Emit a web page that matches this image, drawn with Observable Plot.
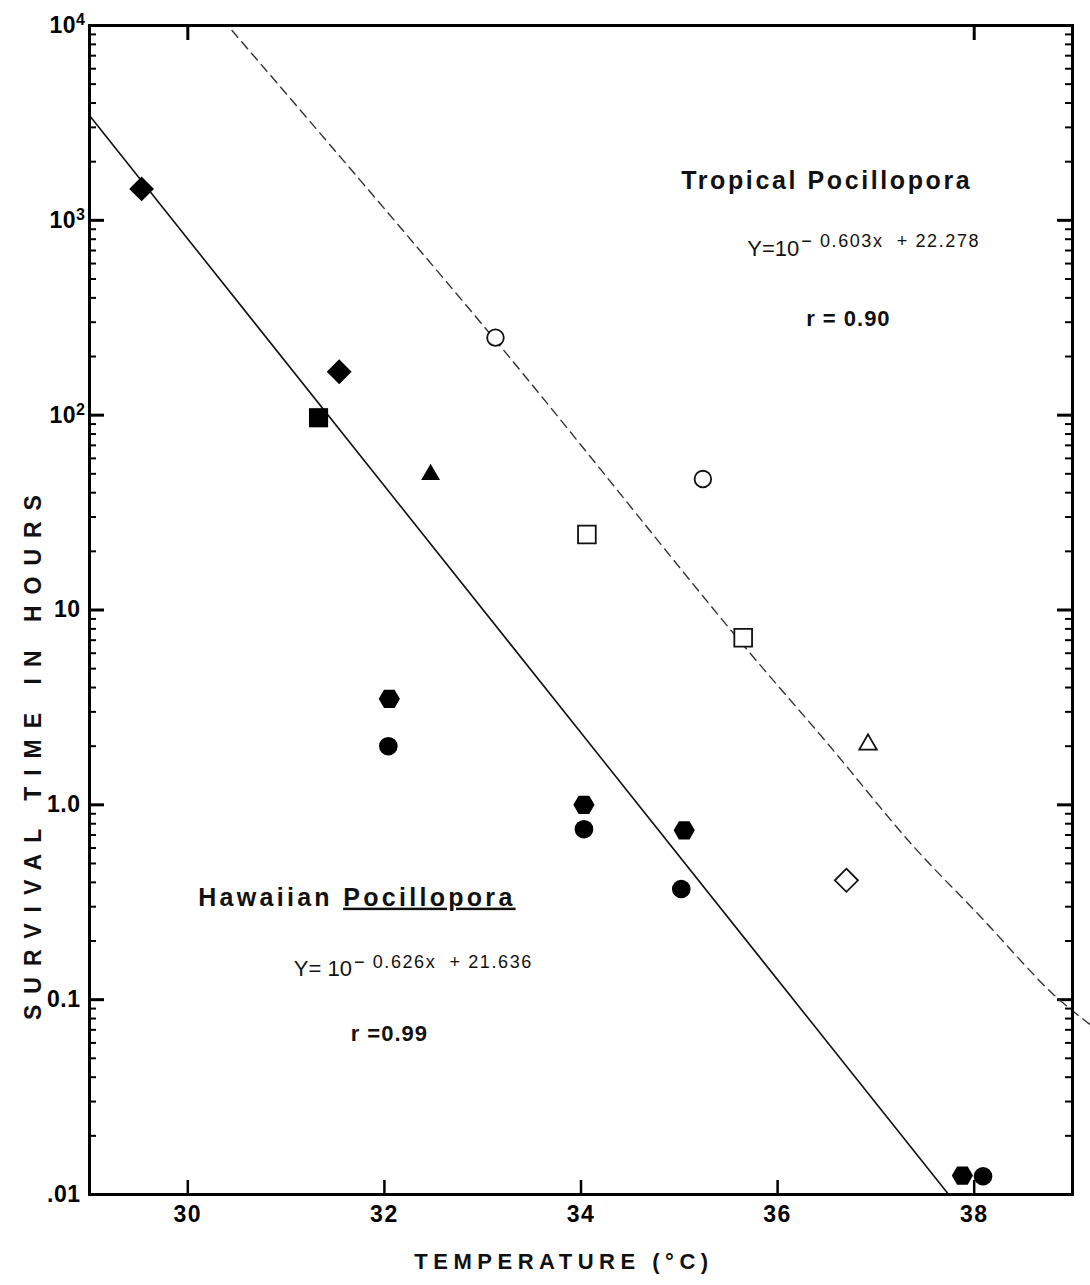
<!DOCTYPE html>
<html>
<head>
<meta charset="utf-8">
<script src="https://cdn.jsdelivr.net/npm/d3@7"></script>
<script src="https://cdn.jsdelivr.net/npm/@observablehq/plot@0.6"></script>
<style>
  html, body { margin: 0; padding: 0; background: #fff; }
  #chart svg { display: block; }
</style>
</head>
<body>
<div id="chart"></div>
<script>
// ---- Data ----
// Hawaiian Pocillopora (filled symbols)
const hawaiianTemp   = [29.53, 31.54, 31.33, 32.47, 32.05, 34.03, 35.05, 37.88, 32.04, 34.03, 35.02, 38.09];
const hawaiianHours  = [1450, 167, 97, 49.5, 3.5, 1.0, 0.74, 0.0125, 2.0, 0.75, 0.37, 0.0124];
const hawaiianSymbol = ["diamond", "diamond", "square", "triangle", "hexagon", "hexagon", "hexagon", "hexagon",
                        "circle", "circle", "circle", "circle"];

// Tropical Pocillopora (open symbols)
const tropicalTemp   = [33.13, 35.24, 34.06, 35.65, 36.92, 36.70];
const tropicalHours  = [250, 47, 24.4, 7.2, 2.04, 0.41];
const tropicalSymbol = ["circle", "circle", "square", "square", "triangle", "diamond"];

// Regression line (solid, Hawaiian) and curve (dashed, Tropical)
const hawaiianFitTemp  = [29, 37.74];
const hawaiianFitHours = [3450, 0.01];
const tropicalCurveTemp  = [30.45, 33.09, 35.57, 36.51, 37.38, 38.06, 38.80, 39.18];
const tropicalCurveHours = [9420, 256, 7.39, 2.06, 0.614, 0.268, 0.107, 0.0745];

// Axis ticks
const yTicks      = [10000, 1000, 100, 10, 1, 0.1, 0.01];
const yTickLabels = ["10^4", "10^3", "10^2", "10", "1.0", "0.1", ".01"];
const xTicks      = [30, 32, 34, 36, 38];
const xTopTicks   = [30, 38];

// Annotations
const titleText  = ["Tropical Pocillopora", "Hawaiian Pocillopora"];
const titleTemp  = [36.50, 31.72];
const titleHours = [1600, 0.334];
const rText  = ["r = 0.90", "r =0.99"];
const rTemp  = [36.72, 32.05];
const rHours = [313, 0.0668];
const eqBase  = ["Y=10", "Y= 10"];
const eqExp   = ["\u2212 0.603x  + 22.278", "\u2212 0.626x  + 21.636"];
const eqTemp  = [36.22, 31.67];
const eqHours = [716, 0.144];

// ---- Build tables ----
const hawaiian = hawaiianTemp.map((t, i) => ({temp: t, hours: hawaiianHours[i], shape: hawaiianSymbol[i]}));
const tropical = tropicalTemp.map((t, i) => ({temp: t, hours: tropicalHours[i], shape: tropicalSymbol[i]}));
const hawaiianFit = hawaiianFitTemp.map((t, i) => ({temp: t, hours: hawaiianFitHours[i]}));
const tropicalCurve = tropicalCurveTemp.map((t, i) => ({temp: t, hours: tropicalCurveHours[i]}));
const titles = titleText.map((s, i) => ({s, temp: titleTemp[i], hours: titleHours[i]}));
const rs = rText.map((s, i) => ({s, temp: rTemp[i], hours: rHours[i]}));
const eqs = eqBase.map((s, i) => ({base: s, exp: eqExp[i], temp: eqTemp[i], hours: eqHours[i]}));

const minorTicks = [];
for (let e = -2; e < 4; ++e) for (let k = 2; k <= 9; ++k) minorTicks.push(k * Math.pow(10, e));
const labelFor = new Map(yTicks.map((v, i) => [v, yTickLabels[i]]));

// flat-topped hexagon (points left/right)
const flatHexagon = {
  draw(context, size) {
    const r = Math.sqrt(size / Math.PI), h = r * Math.sqrt(3) / 2;
    context.moveTo(r, 0);
    context.lineTo(r / 2, h);
    context.lineTo(-r / 2, h);
    context.lineTo(-r, 0);
    context.lineTo(-r / 2, -h);
    context.lineTo(r / 2, -h);
    context.closePath();
  }
};
const symbolOf = {diamond: "diamond2", square: "square", triangle: "triangle", hexagon: flatHexagon, circle: "circle"};
const filledR = {diamond: 11.2, square: 10.8, triangle: 7.0, hexagon: 10.6, circle: 9.3};
const openR   = {diamond: 10.4, square: 10.0, triangle: 6.5, hexagon: 10, circle: 8.3};

const W = 1090, H = 1285;
const mL = 89, mR = 18, mT = 25, mB = 91;
const plotW = W - mL - mR, plotH = H - mT - mB;
const FONT = "Liberation Sans, Arial, sans-serif";

const dotMarks = [];
for (const shape of Object.keys(symbolOf)) {
  const f = hawaiian.filter(d => d.shape === shape);
  if (f.length) dotMarks.push(Plot.dot(f, {x: "temp", y: "hours", symbol: symbolOf[shape], r: filledR[shape], fill: "#000", stroke: "none"}));
  const o = tropical.filter(d => d.shape === shape);
  if (o.length) dotMarks.push(Plot.dot(o, {x: "temp", y: "hours", symbol: symbolOf[shape], r: openR[shape], fill: "#fff", stroke: "#111", strokeWidth: 1.8}));
}

const chart = Plot.plot({
  width: W,
  height: H,
  marginLeft: mL,
  marginRight: mR,
  marginTop: mT,
  marginBottom: mB,
  style: {background: "#fff", fontFamily: FONT, color: "#000", overflow: "visible"},
  x: {domain: [29, 39]},
  y: {type: "log", domain: [0.01, 10000]},
  marks: [
    // inward ticks
    Plot.tickY(yTicks, {insetRight: plotW - 15, strokeWidth: 3, stroke: "#000"}),
    Plot.tickY(minorTicks, {insetRight: plotW - 7, strokeWidth: 2, stroke: "#000"}),
    Plot.tickY(yTicks, {insetLeft: plotW - 15, strokeWidth: 3, stroke: "#000"}),
    Plot.tickY(minorTicks, {insetLeft: plotW - 7, strokeWidth: 2, stroke: "#000"}),
    Plot.tickX(xTicks, {insetTop: plotH - 14, strokeWidth: 2.5, stroke: "#000"}),
    Plot.tickX(xTopTicks, {insetBottom: plotH - 15, strokeWidth: 3, stroke: "#000"}),
    // tick labels
    Plot.axisY(yTicks, {anchor: "left", tickSize: 0, tickPadding: 9, tickFormat: d => labelFor.get(d),
      fontSize: 23, fontWeight: "bold", label: null}),
    Plot.axisX(xTicks, {anchor: "bottom", tickSize: 0, tickPadding: 11, tickFormat: d => String(d),
      fontSize: 23, fontWeight: "bold", label: null}),
    // lines
    Plot.line(hawaiianFit, {x: "temp", y: "hours", stroke: "#111", strokeWidth: 1.6}),
    Plot.line(tropicalCurve, {x: "temp", y: "hours", stroke: "#333", strokeWidth: 1.4, strokeDasharray: "9,6", curve: "catmull-rom"}),
    // points
    ...dotMarks,
    // annotations
    Plot.text(titles, {x: "temp", y: "hours", text: "s", fontSize: 25, fontWeight: "bold", fill: "#111"}),
    Plot.text(rs, {x: "temp", y: "hours", text: "s", fontSize: 22, fontWeight: "bold", fill: "#111"}),
    Plot.text(eqs, {x: "temp", y: "hours", text: "base", textAnchor: "end", fontSize: 22, fill: "#111"}),
    Plot.text(eqs, {x: "temp", y: "hours", text: "exp", textAnchor: "start", dx: 2, dy: -7, fontSize: 18, fill: "#111"}),
    // axis titles
    Plot.text(["SURVIVAL TIME IN HOURS"], {frameAnchor: "left", textAnchor: "middle", dx: -56, dy: 142, rotate: -90, fontSize: 23, fontWeight: "bold", fill: "#111"}),
    Plot.text(["TEMPERATURE (\u00B0C)"], {frameAnchor: "bottom", textAnchor: "middle", dx: -17, dy: 74, fontSize: 22, fontWeight: "bold", fill: "#111"}),
    // frame
    Plot.frame({stroke: "#000", strokeWidth: 3})
  ]
});

// post-processing: letter spacing, superscripts and underline
const SVGNS = "http://www.w3.org/2000/svg";
chart.querySelectorAll('g[aria-label="x-axis tick label"] text').forEach(el => el.setAttribute("letter-spacing", "1.5"));
chart.querySelectorAll('g[aria-label="y-axis tick label"] text').forEach(el => el.setAttribute("letter-spacing", "0.5"));
chart.querySelectorAll("text").forEach(el => {
  const t = el.textContent;
  const sup = /^10\^(\d)$/.exec(t);
  if (sup) {
    el.textContent = "";
    const a = document.createElementNS(SVGNS, "tspan");
    a.textContent = "10";
    const b = document.createElementNS(SVGNS, "tspan");
    b.textContent = sup[1];
    b.setAttribute("dy", "-8");
    b.setAttribute("font-size", "16");
    el.appendChild(a); el.appendChild(b);
    el.setAttribute("dx", "5");
  }
  else if (t === "SURVIVAL TIME IN HOURS") el.setAttribute("letter-spacing", "11");
  else if (t === "TEMPERATURE (\u00B0C)") el.setAttribute("letter-spacing", "5.5");
  else if (t === "Tropical Pocillopora") el.setAttribute("letter-spacing", "2.6");
  else if (t === "Hawaiian Pocillopora") {
    el.setAttribute("letter-spacing", "3.3");
    el.textContent = "";
    const a = document.createElementNS(SVGNS, "tspan");
    a.textContent = "Hawaiian ";
    const b = document.createElementNS(SVGNS, "tspan");
    b.textContent = "Pocillopora";
    b.setAttribute("text-decoration", "underline");
    b.style.textDecoration = "underline";
    el.appendChild(a); el.appendChild(b);
  }
  else if (t.startsWith("r ")) el.setAttribute("letter-spacing", "1");
  else if (t.startsWith("\u2212")) el.setAttribute("letter-spacing", "1.6");
});

document.getElementById("chart").appendChild(chart);
</script>
</body>
</html>
